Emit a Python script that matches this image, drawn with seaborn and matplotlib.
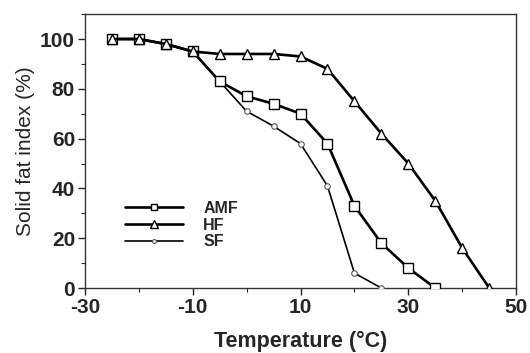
import matplotlib
matplotlib.use("Agg")
import matplotlib.pyplot as plt
import seaborn as sns
import pandas as pd
from matplotlib.ticker import MultipleLocator

# Solid fat index vs temperature
temp_amf = [-25, -20, -15, -10, -5, 0, 5, 10, 15, 20, 25, 30, 35]
sfi_amf = [100, 100, 98, 95, 83, 77, 74, 70, 58, 33, 18, 8, 0]

temp_hf = [-25, -20, -15, -10, -5, 0, 5, 10, 15, 20, 25, 30, 35, 40, 45]
sfi_hf = [100, 100, 98, 95, 94, 94, 94, 93, 88, 75, 62, 50, 35, 16, 0]

temp_sf = [-25, -20, -15, -10, -5, 0, 5, 10, 15, 20, 25]
sfi_sf = [100, 100, 98, 95, 83, 71, 65, 58, 41, 6, 0]

x_ticks = [-30, -10, 10, 30, 50]
y_ticks = [0, 20, 40, 60, 80, 100]

sns.set_theme(style="ticks")
plt.rcParams['font.family'] = ['Liberation Sans', 'DejaVu Sans']
plt.rcParams['axes.unicode_minus'] = False

fig = plt.figure(figsize=(5.30, 3.53), dpi=100)
ax = fig.add_axes([0.160, 0.184, 0.814, 0.776])

df_amf = pd.DataFrame({"Temperature": temp_amf, "SFI": sfi_amf})
df_hf = pd.DataFrame({"Temperature": temp_hf, "SFI": sfi_hf})
df_sf = pd.DataFrame({"Temperature": temp_sf, "SFI": sfi_sf})

sns.lineplot(data=df_sf, x="Temperature", y="SFI", ax=ax, color="black", lw=1.2,
             marker="o", markersize=4, markerfacecolor="white",
             markeredgecolor="#555555", markeredgewidth=0.8, label="SF", zorder=3)
sns.lineplot(data=df_amf, x="Temperature", y="SFI", ax=ax, color="black", lw=1.9,
             marker="s", markersize=6.5, markerfacecolor="white",
             markeredgecolor="black", markeredgewidth=1.0, label="AMF", zorder=4)
sns.lineplot(data=df_hf, x="Temperature", y="SFI", ax=ax, color="black", lw=1.9,
             marker="^", markersize=7.5, markerfacecolor="white",
             markeredgecolor="black", markeredgewidth=1.0, label="HF", zorder=5)

ax.set_xlim(-30, 50)
ax.set_ylim(0, 110)
ax.set_xticks(x_ticks)
ax.set_yticks(y_ticks)
ax.xaxis.set_minor_locator(MultipleLocator(10))
ax.yaxis.set_minor_locator(MultipleLocator(10))
ax.tick_params(axis="both", which="major", labelsize=15, length=5, width=1,
               direction="out", pad=2)
ax.tick_params(axis="both", which="minor", length=3, width=0.8, direction="out")
for lbl in ax.get_xticklabels() + ax.get_yticklabels():
    lbl.set_fontweight("bold")

for s in ax.spines.values():
    s.set_linewidth(1.0)
    s.set_color("#333333")

ax.set_xlabel("Temperature (°C)", fontsize=15.5, fontweight="bold", labelpad=10)
ax.set_ylabel("Solid fat index (%)", fontsize=15, labelpad=4)

handles, labels = ax.get_legend_handles_labels()
order = [labels.index(n) for n in ["AMF", "HF", "SF"]]
leg = ax.legend([handles[i] for i in order], [labels[i] for i in order],
                loc="upper left", bbox_to_anchor=(0.06, 0.37), frameon=False,
                handlelength=3.6, handletextpad=1.3, labelspacing=0.1,
                markerscale=0.7, prop={"size": 11.5, "weight": "bold"})

fig.savefig("out.png", dpi=100)
